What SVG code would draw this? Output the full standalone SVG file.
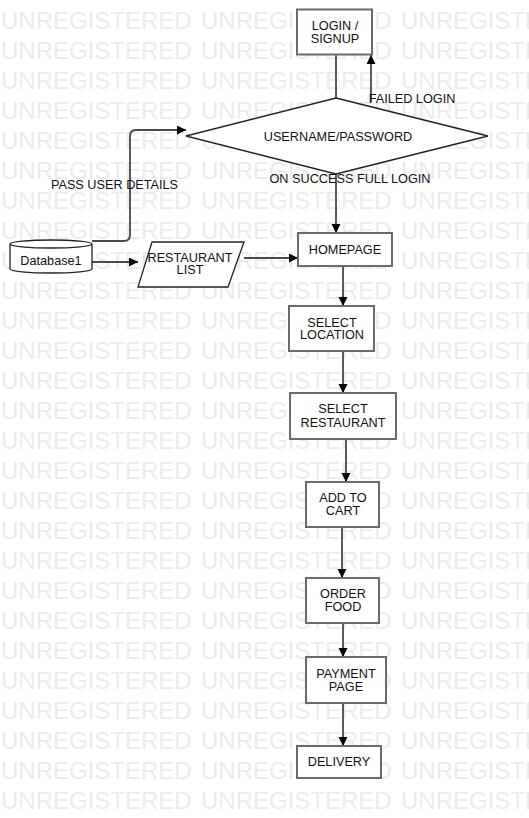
<svg xmlns="http://www.w3.org/2000/svg" width="529" height="818" viewBox="0 0 529 818">
<defs>
<style>
.wm{font-family:"Liberation Sans",Arial,sans-serif;font-size:24px;fill:#ebebeb}
.t{font-family:"Liberation Sans",Arial,sans-serif;font-size:12.7px;fill:#111;text-anchor:middle}
.box{fill:#fff;stroke:#6b6b6b;stroke-width:2}
.shp{fill:#fff;stroke:#222;stroke-width:1.3}
.c{fill:none;stroke:#4a4a4a;stroke-width:1.8}
</style>
<marker id="ah" markerUnits="userSpaceOnUse" markerWidth="10" markerHeight="10" refX="9" refY="4.5" orient="auto">
<path d="M0,0 L9,4.5 L0,9 Z" fill="#000"/>
</marker>
</defs>
<rect width="529" height="818" fill="#fff"/>
<g id="watermark" class="wm">
<text y="29"><tspan x="1">UNREGISTERED</tspan><tspan x="201">UNREGISTERED</tspan><tspan x="401">UNREGISTERED</tspan></text>
<text y="59"><tspan x="1">UNREGISTERED</tspan><tspan x="201">UNREGISTERED</tspan><tspan x="401">UNREGISTERED</tspan></text>
<text y="89"><tspan x="1">UNREGISTERED</tspan><tspan x="201">UNREGISTERED</tspan><tspan x="401">UNREGISTERED</tspan></text>
<text y="119"><tspan x="1">UNREGISTERED</tspan><tspan x="201">UNREGISTERED</tspan><tspan x="401">UNREGISTERED</tspan></text>
<text y="149"><tspan x="1">UNREGISTERED</tspan><tspan x="201">UNREGISTERED</tspan><tspan x="401">UNREGISTERED</tspan></text>
<text y="179"><tspan x="1">UNREGISTERED</tspan><tspan x="201">UNREGISTERED</tspan><tspan x="401">UNREGISTERED</tspan></text>
<text y="209"><tspan x="1">UNREGISTERED</tspan><tspan x="201">UNREGISTERED</tspan><tspan x="401">UNREGISTERED</tspan></text>
<text y="239"><tspan x="1">UNREGISTERED</tspan><tspan x="201">UNREGISTERED</tspan><tspan x="401">UNREGISTERED</tspan></text>
<text y="269"><tspan x="1">UNREGISTERED</tspan><tspan x="201">UNREGISTERED</tspan><tspan x="401">UNREGISTERED</tspan></text>
<text y="299"><tspan x="1">UNREGISTERED</tspan><tspan x="201">UNREGISTERED</tspan><tspan x="401">UNREGISTERED</tspan></text>
<text y="329"><tspan x="1">UNREGISTERED</tspan><tspan x="201">UNREGISTERED</tspan><tspan x="401">UNREGISTERED</tspan></text>
<text y="359"><tspan x="1">UNREGISTERED</tspan><tspan x="201">UNREGISTERED</tspan><tspan x="401">UNREGISTERED</tspan></text>
<text y="389"><tspan x="1">UNREGISTERED</tspan><tspan x="201">UNREGISTERED</tspan><tspan x="401">UNREGISTERED</tspan></text>
<text y="419"><tspan x="1">UNREGISTERED</tspan><tspan x="201">UNREGISTERED</tspan><tspan x="401">UNREGISTERED</tspan></text>
<text y="449"><tspan x="1">UNREGISTERED</tspan><tspan x="201">UNREGISTERED</tspan><tspan x="401">UNREGISTERED</tspan></text>
<text y="479"><tspan x="1">UNREGISTERED</tspan><tspan x="201">UNREGISTERED</tspan><tspan x="401">UNREGISTERED</tspan></text>
<text y="509"><tspan x="1">UNREGISTERED</tspan><tspan x="201">UNREGISTERED</tspan><tspan x="401">UNREGISTERED</tspan></text>
<text y="539"><tspan x="1">UNREGISTERED</tspan><tspan x="201">UNREGISTERED</tspan><tspan x="401">UNREGISTERED</tspan></text>
<text y="569"><tspan x="1">UNREGISTERED</tspan><tspan x="201">UNREGISTERED</tspan><tspan x="401">UNREGISTERED</tspan></text>
<text y="599"><tspan x="1">UNREGISTERED</tspan><tspan x="201">UNREGISTERED</tspan><tspan x="401">UNREGISTERED</tspan></text>
<text y="629"><tspan x="1">UNREGISTERED</tspan><tspan x="201">UNREGISTERED</tspan><tspan x="401">UNREGISTERED</tspan></text>
<text y="659"><tspan x="1">UNREGISTERED</tspan><tspan x="201">UNREGISTERED</tspan><tspan x="401">UNREGISTERED</tspan></text>
<text y="689"><tspan x="1">UNREGISTERED</tspan><tspan x="201">UNREGISTERED</tspan><tspan x="401">UNREGISTERED</tspan></text>
<text y="719"><tspan x="1">UNREGISTERED</tspan><tspan x="201">UNREGISTERED</tspan><tspan x="401">UNREGISTERED</tspan></text>
<text y="749"><tspan x="1">UNREGISTERED</tspan><tspan x="201">UNREGISTERED</tspan><tspan x="401">UNREGISTERED</tspan></text>
<text y="779"><tspan x="1">UNREGISTERED</tspan><tspan x="201">UNREGISTERED</tspan><tspan x="401">UNREGISTERED</tspan></text>
<text y="809"><tspan x="1">UNREGISTERED</tspan><tspan x="201">UNREGISTERED</tspan><tspan x="401">UNREGISTERED</tspan></text>
</g>
<g id="connectors">
<path class="c" d="M336,55 V98"/>
<path class="c" d="M371,102 V55" marker-end="url(#ah)"/>
<path class="c" d="M92,241 H124 Q130,241 130,235 V136 Q130,130 136,130 H186" marker-end="url(#ah)"/>
<path class="c" d="M92,262 H138" marker-end="url(#ah)"/>
<path class="c" d="M244,258 H298" marker-end="url(#ah)"/>
<path class="c" d="M336,174 V233" marker-end="url(#ah)"/>
<path class="c" d="M343,266 V306" marker-end="url(#ah)"/>
<path class="c" d="M343,351 V393" marker-end="url(#ah)"/>
<path class="c" d="M346,439 V482" marker-end="url(#ah)"/>
<path class="c" d="M342,527 V578" marker-end="url(#ah)"/>
<path class="c" d="M343,623 V657" marker-end="url(#ah)"/>
<path class="c" d="M343,703 V746" marker-end="url(#ah)"/>
<text class="t" x="412" y="102.5">FAILED LOGIN</text>
<text class="t" x="114.5" y="188.5">PASS USER DETAILS</text>
<text class="t" x="350" y="182.5">ON SUCCESS FULL LOGIN</text>
</g>
<g id="login">
<rect class="box" x="297" y="9.5" width="75" height="45"/>
<text class="t" x="335" y="29.5">LOGIN /</text>
<text class="t" x="335" y="42.5">SIGNUP</text>
</g>
<g id="credentials">
<polygon class="shp" points="336,98 488,136 336,174 186,136"/>
<text class="t" x="338" y="140.5">USERNAME/PASSWORD</text>
</g>
<g id="database">
<path class="shp" d="M10,244 V269 A41,4 0 0 0 92,269 V244 A41,4 0 0 0 10,244 Z"/>
<path class="shp" fill="none" d="M10,244 A41,4 0 0 0 92,244"/>
<text class="t" x="51" y="264.5">Database1</text>
</g>
<g id="restaurant-list">
<polygon class="shp" points="152,242 244,242 228,287 138,287"/>
<text class="t" x="190" y="261.5">RESTAURANT</text>
<text class="t" x="190" y="273.5">LIST</text>
</g>
<g id="homepage">
<rect class="box" x="298" y="233" width="94" height="33"/>
<text class="t" x="345" y="253.5">HOMEPAGE</text>
</g>
<g id="select-location">
<rect class="box" x="289" y="306" width="85" height="45"/>
<text class="t" x="332" y="326.5">SELECT</text>
<text class="t" x="332" y="338.5">LOCATION</text>
</g>
<g id="select-restaurant">
<rect class="box" x="290" y="393" width="106" height="46"/>
<text class="t" x="343" y="412.5">SELECT</text>
<text class="t" x="343" y="426.5">RESTAURANT</text>
</g>
<g id="add-to-cart">
<rect class="box" x="306" y="482" width="73" height="45"/>
<text class="t" x="343" y="501.5">ADD TO</text>
<text class="t" x="343" y="514.5">CART</text>
</g>
<g id="order-food">
<rect class="box" x="306" y="578" width="73" height="45"/>
<text class="t" x="343" y="597.5">ORDER</text>
<text class="t" x="343" y="610.5">FOOD</text>
</g>
<g id="payment-page">
<rect class="box" x="306" y="657" width="80" height="46"/>
<text class="t" x="346" y="677.5">PAYMENT</text>
<text class="t" x="346" y="690.5">PAGE</text>
</g>
<g id="delivery">
<rect class="box" x="297" y="746" width="84" height="32"/>
<text class="t" x="339" y="765.5">DELIVERY</text>
</g>
</svg>
